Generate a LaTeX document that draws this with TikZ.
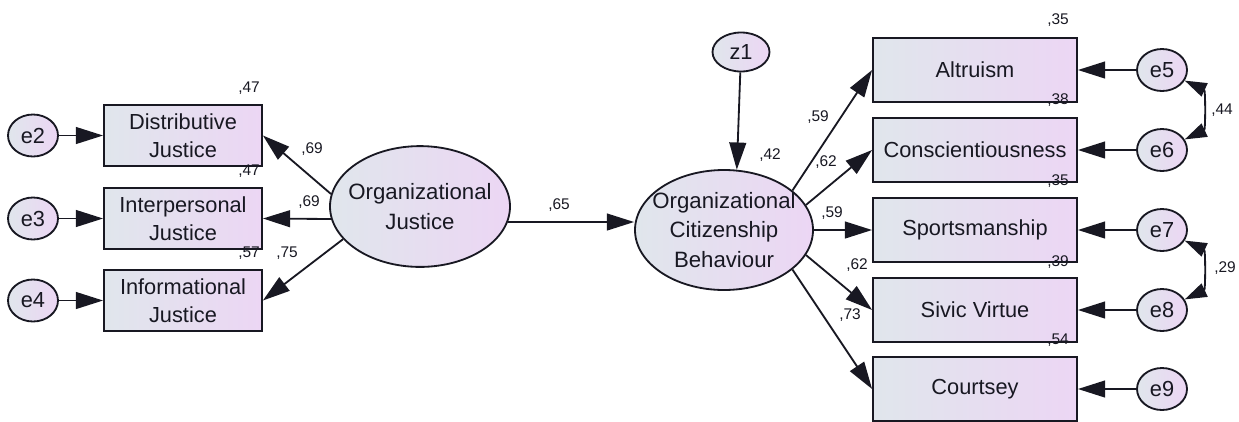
\documentclass[tikz,border=0pt]{standalone}
\usepackage{fontspec}
\setmainfont{Liberation Sans}
\usetikzlibrary{arrows.meta,shapes.geometric,positioning}
\definecolor{shadeL}{RGB}{224,230,236}
\definecolor{shadeR}{RGB}{236,214,244}
\definecolor{ink}{RGB}{24,24,34}

\begin{document}
\begin{tikzpicture}[
  font=\fontsize{15.5}{20}\selectfont, >={Triangle[length=6.8mm,width=4.2mm]},
  obs/.style={rectangle, draw=ink, line width=1.3pt, left color=shadeL, right color=shadeR,
              align=center, text=ink, inner sep=1pt},
  lbox/.style={obs, minimum width=3.95cm, minimum height=1.525cm},
  rbox/.style={obs, minimum width=5.1cm, minimum height=1.6cm},
  lat/.style={ellipse, draw=ink, line width=1.3pt, left color=shadeL, right color=shadeR,
              inner sep=0pt, minimum width=4.5cm, minimum height=3.02cm},
  err/.style={ellipse, draw=ink, line width=1.3pt, left color=shadeL, right color=shadeR,
              text=ink, inner sep=0pt, minimum width=1.25cm, minimum height=1.05cm},
  txt/.style={align=center, text=ink, inner sep=0pt, font=\fontsize{15.8}{21}\selectfont},
  num/.style={font=\fontsize{11}{13}\selectfont, text=ink, inner sep=0pt},
  arr/.style={->, line width=1.3pt, draw=ink},
  cov/.style={{Triangle[length=5.5mm,width=3.6mm]}-{Triangle[length=5.5mm,width=3.6mm]},
              line width=1.3pt, draw=ink, bend left=65}
]
\useasboundingbox (0,0) rectangle (30.975,-10.525);

%% latent variables
\node[lat, label={[txt]center:{Organizational\\Justice}}] (oj) at (10.5, -5.1625) {};
\node[lat, minimum width=4.45cm, minimum height=3cm,
      label={[txt]center:{Organizational\\Citizenship\\Behaviour}}] (ocb) at (18.1, -5.75) {};
\node[err, minimum width=1.425cm, minimum height=0.975cm] (z1) at (18.525, -1.3) {z1};

%% justice indicators
\node[lbox] (dis) at (4.575, -3.3875) {Distributive\\Justice};
\node[lbox] (int) at (4.575, -5.4625) {Interpersonal\\Justice};
\node[lbox] (inf) at (4.575, -7.5125) {Informational\\Justice};
\node[err] (e2) at (0.825, -3.3875) {e2};
\node[err] (e3) at (0.825, -5.4625) {e3};
\node[err] (e4) at (0.825, -7.5125) {e4};

%% citizenship indicators
\node[rbox] (alt) at (24.375, -1.75) {Altruism};
\node[rbox] (cns) at (24.375, -3.75) {Conscientiousness};
\node[rbox] (spo) at (24.375, -5.75) {Sportsmanship};
\node[rbox] (siv) at (24.375, -7.75) {Sivic Virtue};
\node[rbox] (cou) at (24.375, -9.725) {Courtsey};
\node[err] (e5) at (29.05, -1.75) {e5};
\node[err] (e6) at (29.05, -3.75) {e6};
\node[err] (e7) at (29.05, -5.75) {e7};
\node[err] (e8) at (29.05, -7.75) {e8};
\node[err] (e9) at (29.05, -9.725) {e9};

%% paths
\draw[arr] (e2) -- (dis);
\draw[arr] (e3) -- (int);
\draw[arr] (e4) -- (inf);
\draw[arr] (oj.172) -- (dis.east);
\draw[arr] (oj.188) -- (int.east);
\draw[arr] (oj.203) -- (inf.east);
\draw[arr] (oj.-10) -- (ocb.west |- oj.-10);
\draw[arr] (z1) -- (ocb.78);
\draw[arr] (ocb.30) -- (alt.west);
\draw[arr] (ocb.17) -- (cns.west);
\draw[arr] (ocb.east) -- (spo.west);
\draw[arr] (ocb.-17) -- (siv.west);
\draw[arr] (ocb.-30) -- (cou.west);
\draw[arr] (e5) -- (alt);
\draw[arr] (e6) -- (cns);
\draw[arr] (e7) -- (spo);
\draw[arr] (e8) -- (siv);
\draw[arr] (e9) -- (cou);

%% covariances
\draw[cov] (e5.-25) to (e6.25);
\draw[cov] (e7.-25) to (e8.25);

%% estimates
\node[num] (vdis) at (6.225, -2.2125) {,47};
\node[num] (vint) at (6.225, -4.275) {,47};
\node[num] (vinf) at (6.225, -6.325) {,57};
\node[num] (pdis) at (7.8, -3.725) {,69};
\node[num] (pint) at (7.725, -5.05) {,69};
\node[num] (pinf) at (7.175, -6.325) {,75};
\node[num] (pocb) at (13.975, -5.125) {,65};
\node[num] (vocb) at (19.25, -3.875) {,42};
\node[num] (palt) at (20.45, -2.925) {,59};
\node[num] (pcon) at (20.65, -4.05) {,62};
\node[num] (pspo) at (20.8, -5.325) {,59};
\node[num] (psiv) at (21.425, -6.625) {,62};
\node[num] (pcou) at (21.25, -7.875) {,73};
\node[num] (valt) at (26.45, -0.5) {,35};
\node[num] (vcon) at (26.45, -2.5) {,38};
\node[num] (vspo) at (26.45, -4.525) {,35};
\node[num] (vsiv) at (26.45, -6.55) {,39};
\node[num] (vcou) at (26.45, -8.5) {,54};
\node[num] (c56) at (30.55, -2.75) {,44};
\node[num] (c78) at (30.625, -6.7) {,29};
\end{tikzpicture}
\end{document}
